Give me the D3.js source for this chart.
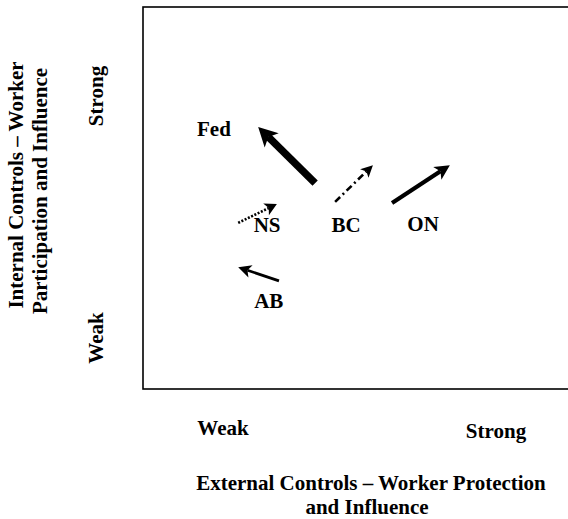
<!DOCTYPE html>
<html>
<head>
<meta charset="utf-8">
<script src="https://cdn.jsdelivr.net/npm/d3@7/dist/d3.min.js"></script>
<style>
  html, body { margin: 0; padding: 0; background: #fff; }
  svg { display: block; }
  text { font-family: "Liberation Serif", "Times New Roman", serif; font-weight: bold; fill: #000; }
</style>
</head>
<body>
<svg id="chart" width="568" height="519"></svg>
<script>
// ---- data (domain 0..10 on both axes) ----
const jurisdictions = ["Fed", "BC", "NS", "ON", "AB"];
const tailX = [4.05, 4.52, 2.24, 5.86, 3.20];
const tailY = [5.39, 4.90, 4.35, 4.87, 2.83];
const tipX  = [2.71, 5.41, 3.15, 7.22, 2.24];
const tipY  = [6.86, 5.86, 4.84, 5.86, 3.19];
const labelX = [1.67, 4.78, 2.92, 6.59, 2.96];
const labelY = [6.62, 4.11, 4.11, 4.14, 2.12];
const lineStyle = ["thick", "dashdot", "dotted", "medium", "thin"];
const xTickLabels = ["Weak", "Strong"];
const yTickLabels = ["Weak", "Strong"];
const xTitle = ["External Controls – Worker Protection", "and Influence"];
const yTitle = ["Internal Controls – Worker", "Participation and Influence"];

// ---- styles ----
const styles = {
  thick:   { w: 7.5, dash: null,          hl: 19, hw: 10 },
  medium:  { w: 4.2, dash: null,          hl: 15, hw: 7.5 },
  thin:    { w: 2.8, dash: null,          hl: 13, hw: 6.5 },
  dashdot: { w: 2.6, dash: "7,3.5,2,3.5", hl: 12, hw: 6 },
  dotted:  { w: 2.6, dash: "2,1.6",       hl: 12, hw: 6.5 }
};
const FS = 21;

const svg = d3.select("#chart");
const box = { left: 143, top: 7, right: 575, bottom: 389 };
const x = d3.scaleLinear().domain([0, 10]).range([box.left, 568]);
const y = d3.scaleLinear().domain([0, 10]).range([box.bottom, box.top]);

// frame
svg.append("rect")
  .attr("x", box.left).attr("y", box.top)
  .attr("width", box.right - box.left).attr("height", box.bottom - box.top)
  .attr("fill", "none").attr("stroke", "#000").attr("stroke-width", 1.6);

// arrows
jurisdictions.forEach((name, i) => {
  const s = styles[lineStyle[i]];
  const x0 = x(tailX[i]), y0 = y(tailY[i]);
  const x1 = x(tipX[i]), y1 = y(tipY[i]);
  const dx = x1 - x0, dy = y1 - y0;
  const len = Math.hypot(dx, dy);
  const ux = dx / len, uy = dy / len;
  const px = -uy, py = ux;
  const bx = x1 - ux * s.hl, by = y1 - uy * s.hl;
  const nx = x1 - ux * s.hl * 0.75, ny = y1 - uy * s.hl * 0.75;
  svg.append("line")
    .attr("x1", x0).attr("y1", y0)
    .attr("x2", nx).attr("y2", ny)
    .attr("stroke", "#000").attr("stroke-width", s.w)
    .attr("stroke-dasharray", s.dash);
  const head = [
    [x1, y1],
    [bx + px * s.hw, by + py * s.hw],
    [nx, ny],
    [bx - px * s.hw, by - py * s.hw]
  ];
  svg.append("path")
    .attr("d", "M" + head.map(p => p.join(",")).join("L") + "Z")
    .attr("fill", "#000");
  svg.append("text")
    .attr("x", x(labelX[i])).attr("y", y(labelY[i]))
    .attr("text-anchor", "middle").attr("font-size", FS)
    .text(name);
});

// x tick labels
svg.append("text").attr("x", 223).attr("y", 435).attr("text-anchor", "middle")
  .attr("font-size", FS).text(xTickLabels[0]);
svg.append("text").attr("x", 496).attr("y", 438).attr("text-anchor", "middle")
  .attr("font-size", FS).text(xTickLabels[1]);

// y tick labels (rotated)
svg.append("text").attr("transform", "translate(103,338) rotate(-90)")
  .attr("text-anchor", "middle").attr("font-size", FS).text(yTickLabels[0]);
svg.append("text").attr("transform", "translate(103,96) rotate(-90)")
  .attr("text-anchor", "middle").attr("font-size", FS).text(yTickLabels[1]);

// x title
svg.append("text").attr("x", 371).attr("y", 490).attr("text-anchor", "middle")
  .attr("font-size", FS).text(xTitle[0]);
svg.append("text").attr("x", 367).attr("y", 514).attr("text-anchor", "middle")
  .attr("font-size", FS).text(xTitle[1]);

// y title
svg.append("text").attr("transform", "translate(23,185) rotate(-90)")
  .attr("text-anchor", "middle").attr("font-size", FS).text(yTitle[0]);
svg.append("text").attr("transform", "translate(47,191) rotate(-90)")
  .attr("text-anchor", "middle").attr("font-size", FS).text(yTitle[1]);
</script>
</body>
</html>
